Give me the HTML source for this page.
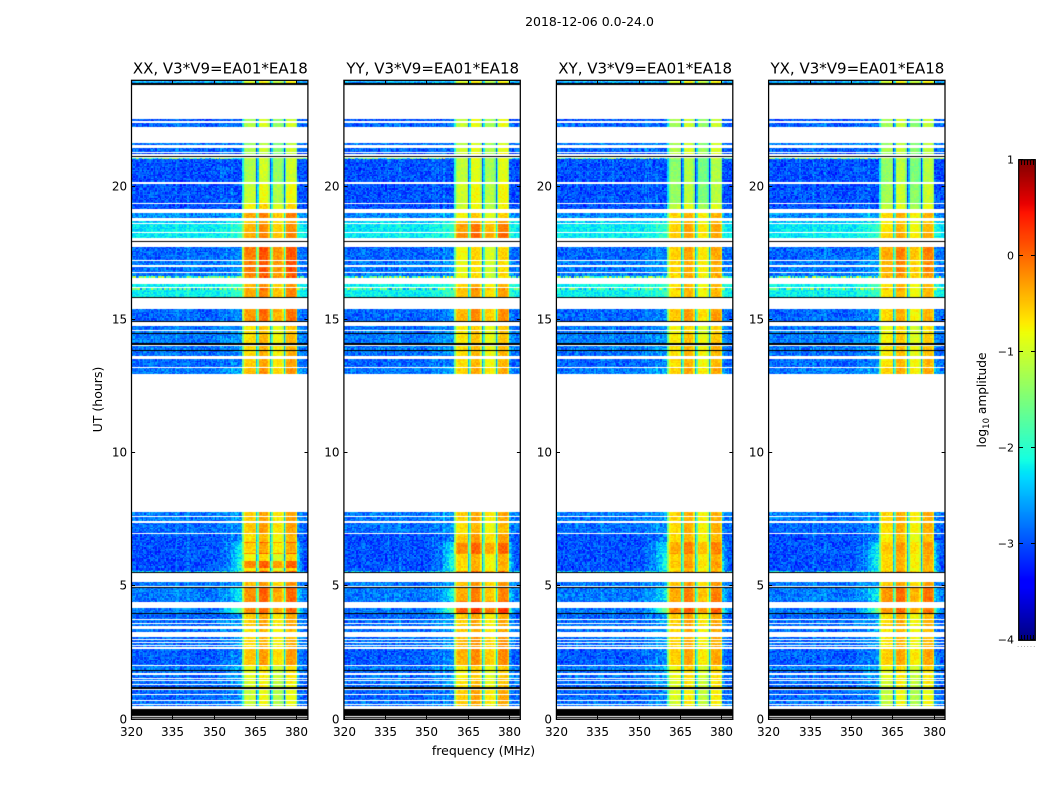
<!DOCTYPE html>
<html>
<head>
<meta charset="utf-8">
<title>2018-12-06 0.0-24.0</title>
<style>
html,body{margin:0;padding:0;background:#fff}
#figure{position:relative;width:1050px;height:800px;overflow:hidden;background:#fff}
canvas{position:absolute;display:block}
svg{position:absolute;left:0;top:0}
text{font-family:"DejaVu Sans","Liberation Sans",sans-serif;fill:#000}
</style>
</head>
<body>
<div id="figure">
<canvas id="colorbarCanvas" width="16" height="480" style="left:1019px;top:160px"></canvas>
<svg id="overlay" width="1050" height="800">
<text x="589.5" y="26" font-size="12.5" text-anchor="middle">2018-12-06 0.0-24.0</text>
<text x="483.5" y="755" font-size="12.5" text-anchor="middle">frequency (MHz)</text>
<text x="0" y="0" transform="translate(102,399.5) rotate(-90)" font-size="12.5" text-anchor="middle">UT (hours)</text>
<text x="0" y="0" transform="translate(986,400) rotate(-90)" font-size="12.2" text-anchor="middle">log<tspan font-size="8.5" dy="3">10</tspan><tspan dy="-3"> amplitude</tspan></text>
<text x="1017" y="647" font-size="7" fill="#888" letter-spacing="1" style="fill:#888">......</text>
</svg>
</div>
<script>
// Tick labels
const freqTicks = [320, 335, 350, 365, 380];
const hourTicks = [0, 5, 10, 15, 20];
const colorbarTicks = [1, 0, -1, -2, -3, -4];
const panelTitles = ["XX, V3*V9=EA01*EA18", "YY, V3*V9=EA01*EA18", "XY, V3*V9=EA01*EA18", "YX, V3*V9=EA01*EA18"];

// Observation blocks: [upper UT hour, lower UT hour]; anything not listed is flagged (white)
const blockHours = [
[23.97,23.87],[23.87,23.83],[22.55,22.49],[22.39,22.24],[21.63,21.55],[21.44,21.29],[21.25,21.22],[21.14,21.10],[21.07,21.03],[21.03,20.18],
[20.08,19.39],[19.33,19.14],[18.99,18.80],[18.71,18.64],[18.59,18.30],[18.25,18.06],[17.96,17.92],[17.74,17.24],[17.19,17.05],[16.98,16.80],
[16.74,16.62],[16.62,16.57],[16.33,16.23],[16.18,16.13],[16.13,15.86],[15.85,15.81],[15.40,14.93],[14.93,14.91],[14.76,14.61],[14.56,14.50],
[14.50,14.47],[14.47,14.11],[14.11,14.06],[14.02,13.86],[13.86,13.83],[13.83,13.64],[13.51,13.21],[13.18,12.96],[7.77,7.62],[7.57,7.42],
[7.37,6.97],[6.94,6.66],[6.66,6.60],[6.60,6.25],[6.25,6.20],[6.20,5.93],[5.93,5.66],[5.66,5.56],[5.56,5.51],[5.51,5.49],
[5.14,4.99],[4.97,4.93],[4.93,4.47],[4.42,4.38],[4.16,4.00],[4.00,3.97],[3.97,3.94],[3.94,3.74],[3.72,3.62],[3.57,3.49],
[3.37,3.28],[3.09,2.99],[2.97,2.90],[2.87,2.78],[2.74,2.69],[2.62,2.03],[2.00,1.84],[1.84,1.80],[1.80,1.74],[1.64,1.57],
[1.51,1.46],[1.42,1.34],[1.28,1.21],[1.21,1.13],[1.08,0.94],[0.89,0.71],[0.66,0.59],[0.53,0.49],[0.39,0.11],[0.06,0.04]
];
// log10 amplitude outside the passband, per block (-9 = black row)
const backgroundLevel = [
-2.6,-9,-3,-2.9,-2.8,-2.9,-3,-9,-1.9,-3,
-3,-3,-2.7,-2.4,-2.25,-2.25,-9,-2.9,-2.8,-2.8,
-2.8,-1.9,-2.2,-1.9,-2.2,-9,-2.9,-9,-2.85,-2.8,
-9,-2.8,-9,-2.8,-9,-2.85,-2.9,-2.8,-2.8,-2.8,
-2.85,-3,-3,-3,-3,-3,-3,-3,-2.4,-9,
-2.8,-9,-2.8,-2.9,-2.8,-1.9,-9,-2.9,-2.85,-2.85,
-2.85,-2.85,-2.85,-2.85,-2.85,-2.95,-2.8,-9,-2.9,-2.85,
-2.85,-2.85,-2.9,-9,-2.9,-2.9,-2.85,-2.85,-9,-9
];
// log10 amplitude inside the passband, per block, per correlation
const xxLevel = [
-.9,-9,-1.2,-1.1,-1.3,-1.2,-1.3,-9,-1.1,-1.15,
-1,-.75,-.3,-.5,-.35,-.3,-9,-.05,-.05,-.05,
-.1,-.1,-.4,-.3,-.3,-9,-.2,-9,-.65,-.65,
-9,-.6,-9,-.55,-9,-.55,-.5,-.4,-.5,-.5,
-.45,-.6,-.1,-.5,-.1,-.75,-.1,-.7,-.1,-9,
-.4,-9,-.15,-.15,-.15,-.1,-9,-.5,-.5,-.5,
-.6,-.55,-.55,-.55,-.55,-.45,-.85,-9,-.85,-.85,
-.9,-.9,-.9,-9,-1,-1,-1,-1,-9,-9
];
const yyLevel = [
-.9,-9,-1,-1,-1.1,-1,-1,-9,-1.1,-1.05,
-.95,-.95,-.7,-.5,-.25,-.15,-9,-.75,-.8,-.8,
-.8,-.8,-.55,-.4,-.45,-9,-.35,-9,-.7,-.7,
-9,-.65,-9,-.6,-9,-.6,-.6,-.5,-.5,-.5,
-.6,-.45,-.35,-.15,-.2,-.55,-.55,-.6,-.2,-9,
-.4,-9,-.3,-.1,.1,.25,-9,-.5,-.5,-.5,
-.5,-.4,-.4,-.4,-.4,-.35,-.7,-9,-.7,-.7,
-.65,-.65,-.6,-9,-.5,-.45,-.5,-.6,-9,-9
];
const xyLevel = [
-.9,-9,-1.2,-1.2,-1.2,-1.1,-1.1,-9,-1.2,-1.35,
-1.3,-1.05,-.55,-.6,-.5,-.5,-9,-.5,-.55,-.55,
-.55,-.55,-.6,-.55,-.6,-9,-.45,-9,-.75,-.75,
-9,-.65,-9,-.6,-9,-.6,-.6,-.5,-.55,-.55,
-.55,-.6,-.35,-.3,-.25,-.55,-.45,-.6,-.4,-9,
-.45,-9,-.3,-.2,-.1,0,-9,-.5,-.5,-.5,
-.55,-.55,-.55,-.55,-.55,-.5,-.75,-9,-.8,-.8,
-.85,-.85,-.85,-9,-.9,-.9,-.9,-.9,-9,-9
];
const yxLevel = [
-.9,-9,-1.2,-1.2,-1.3,-1.2,-1.3,-9,-1.2,-1.3,
-1.2,-1.05,-.55,-.7,-.6,-.5,-9,-.3,-.35,-.35,
-.4,-.4,-.6,-.55,-.6,-9,-.55,-9,-.8,-.8,
-9,-.7,-9,-.65,-9,-.65,-.6,-.5,-.55,-.55,
-.55,-.65,-.5,-.45,-.45,-.55,-.55,-.6,-.4,-9,
-.45,-9,-.2,-.2,-.2,-.1,-9,-.6,-.55,-.55,
-.6,-.6,-.6,-.6,-.6,-.5,-.8,-9,-.85,-.85,
-.9,-.9,-.9,-9,-1,-1,-1,-1,-9,-9
];
// Extra brightness of the background next to the passband, per block
const edgeGlow = [
0,0,0,0,0,0,0,0,0,0,
0,0,.2,.3,.3,.3,0,.2,.2,.2,
.2,.2,.3,.3,.3,0,.2,0,.2,.2,
0,.2,0,.2,0,.2,.2,.3,.2,.2,
.2,.3,.8,.8,.8,.9,1,.8,.5,0,
.2,0,.6,.4,1.3,1,0,.3,.3,.3,
.3,.3,.3,.3,.3,.3,.3,0,.3,.3,
.3,.3,.2,0,.2,.2,.2,.2,0,0
];
// Strength of the speckle per block; hot rows carry scattered RFI
const speckleGain = [
1,1,1,1,1,1,1,1,3,1,
1,1,1,1,.7,.7,1,1,1,1,
1,3,.7,2.5,.7,1,1,1,1,1,
1,1,1,1,1,1,1,1,1,1,
1,1,1,1,1,1,1,1,2,1,
1,1,1,1,1,3.5,1,1,1,1,
1,1,1,1,1,1,1,1,1,1,
1,1,1,1,1,1,1,1,1,1
];
// Spectral shape in dex across the 128 channels (RFI columns, passband, notches)
const channelOffset = [
0,.05,0,-.05,0,.02,0,-.03,.04,0,
0,-.04,.03,0,.05,0,-.02,0,.03,0,
-.03,0,.04,0,0,-.02,.03,0,0,.02,
0,.03,.22,.03,0,-.03,0,.03,0,.03,
.15,.03,0,-.02,0,.03,0,0,-.03,0,
.02,0,0,-.04,0,.03,0,0,.02,0,
0,-.03,.02,.03,.15,.03,.15,.03,.18,.03,
0,.02,.18,.02,0,0,0,0,0,0,
-1,-.25,-.12,-.05,-.05,-.05,-.05,-.05,-.05,-.15,
-1.9,-1.2,.15,.18,.18,.18,.18,.15,.12,-.2,
-2,-1.2,-.22,-.2,-.2,-.18,-.18,-.2,-.22,-.5,
-2,-.9,.12,.15,.15,.18,.18,.15,.1,-.2,
0,0,0,0,0,0,0,0
];
const passbandChannels = [80, 119];
const edgeChannels = [61,63,65,67,68,69,70,71,72,73,74,75,76,77,78,79,120,121,122,123,124];
const edgeWeights = [.05,.1,.12,.15,.18,.2,.25,.3,.4,.5,.6,.7,.8,.85,.95,1,.7,.5,.3,.15,.08];
// Hand-typed grain table for pixel-level texture (estimated appearance, not per-cell readings)
const speckle = [
.12,-.21,.05,.3,-.08,-.27,.18,.02,-.14,.25,-.03,-.32,.09,.21,-.17,.34,-.06,.14,-.24,.01,
.28,-.11,-.29,.07,.19,-.02,-.2,.33,-.12,.04,.23,-.26,.1,-.05,.16,-.31,.27,.0,-.15,.08,
.2,-.23,.03,.31,-.09,-.18,.13,-.01,.26,-.28,.06,-.13,.35,-.07,.11,-.22,.17,-.04,.29,-.16,
-.3,.22,.0,.15,-.25,.09,-.1,.32,-.19,.04,.24,-.06,-.33,.12,.18,-.12,.02,.28,-.2,.07,
-.03,.3,-.27,.1,.16,-.08,.21,-.15,.05,-.24,.26,-.01,.13,-.34,.19,-.11,.08
];

const plotLefts = [131.6, 344, 556.5, 768.7];
const plotSpan = 176.4;
const plotTop = 80, plotBottom = 719;
const pxPerMHz = plotSpan / 64, pxPerHour = (plotBottom - plotTop) / 24;
const panelNames = ["xx", "yy", "xy", "yx"];
const panelLevels = [xxLevel, yyLevel, xyLevel, yxLevel];

function xScale(freq) { return (freq - 320) * pxPerMHz; }
function yScale(hour) { return plotBottom - hour * pxPerHour; }
function channelFreq(c) { return 320 + c * 0.5; }
function lerp(a, b, t) { return a + (b - a) * t; }
function ramp(t, stops) {
  for (let i = 1; i < stops.length; i++) {
    if (t <= stops[i][0]) {
      const s = stops[i - 1], e = stops[i];
      return lerp(s[1], e[1], (t - s[0]) / (e[0] - s[0]));
    }
  }
  return stops[stops.length - 1][1];
}
function jet(value) {
  if (value < -6) return "#000";
  const t = Math.min(1, Math.max(0, (value + 4) / 5));
  const r = ramp(t, [[0,0],[.35,0],[.66,1],[.89,1],[1,.5]]);
  const g = ramp(t, [[0,0],[.125,0],[.375,1],[.64,1],[.91,0],[1,0]]);
  const b = ramp(t, [[0,.5],[.11,1],[.34,1],[.65,0],[1,0]]);
  return "rgb(" + Math.round(r * 255) + "," + Math.round(g * 255) + "," + Math.round(b * 255) + ")";
}
function edgeWeight(c) {
  const i = edgeChannels.indexOf(c);
  return i < 0 ? 0 : edgeWeights[i];
}
function cellValue(panel, block, row, c) {
  const inBand = c >= passbandChannels[0] && c <= passbandChannels[1];
  const grain = speckle[(row * row * 3 + c * c * 5 + row * c + panel * 11 + row * 7) % speckle.length];
  if (inBand) {
    return panelLevels[panel][block] + channelOffset[c] + grain * 0.45 * Math.min(speckleGain[block], 1.5);
  }
  return backgroundLevel[block] + channelOffset[c] + edgeGlow[block] * edgeWeight(c) + grain * speckleGain[block];
}
function drawHeatmap(ctx, panel) {
  const rowStep = 0.05;
  let rowIndex = 0;
  blockHours.forEach(function (span, block) {
    for (let h = span[0]; h > span[1] + 1e-6; h -= rowStep) {
      rowIndex++;
      const y0 = Math.round(yScale(h) - plotTop);
      const y1 = Math.round(yScale(Math.max(h - rowStep, span[1])) - plotTop);
      const rowHeight = Math.max(1, y1 - y0);
      for (let c = 0; c < channelOffset.length; c++) {
        const x0 = Math.round(xScale(channelFreq(c)));
        const x1 = Math.round(xScale(channelFreq(c + 1)));
        ctx.fillStyle = jet(cellValue(panel, block, rowIndex, c));
        ctx.fillRect(x0, y0, x1 - x0, rowHeight);
      }
    }
  });
}

const svgNS = "http://www.w3.org/2000/svg";
const overlay = document.getElementById("overlay");
const figure = document.getElementById("figure");
function svgEl(tag, parent) {
  const el = document.createElementNS(svgNS, tag);
  parent.appendChild(el);
  return el;
}
function line(parent, x1, y1, x2, y2) {
  const el = svgEl("line", parent);
  el.setAttribute("x1", x1);
  el.setAttribute("y1", y1);
  el.setAttribute("x2", x2);
  el.setAttribute("y2", y2);
  el.setAttribute("stroke", "#000");
  el.setAttribute("stroke-width", "1");
  return el;
}
function label(parent, x, y, content, size, anchor) {
  const el = svgEl("text", parent);
  el.setAttribute("x", x);
  el.setAttribute("y", y);
  el.setAttribute("font-size", size);
  el.setAttribute("text-anchor", anchor);
  el.textContent = content;
  return el;
}

panelTitles.forEach(function (title, p) {
  const left = plotLefts[p];
  const right = left + plotSpan;
  const canvas = document.createElement("canvas");
  
  
  canvas.width = Math.ceil(plotSpan);
  canvas.height = plotBottom - plotTop;
  canvas.style.left = Math.round(left) + "px";
  canvas.style.top = plotTop + "px";
  figure.insertBefore(canvas, overlay);
  drawHeatmap(canvas.getContext("2d"), p);

  const group = svgEl("g", overlay);
  
  

  const frame = svgEl("rect", group);
  
  
  frame.setAttribute("x", left - 0.1);
  frame.setAttribute("y", plotTop + 0.3);
  frame.setAttribute("width", plotSpan);
  frame.setAttribute("height", plotBottom - plotTop);
  frame.setAttribute("fill", "none");
  frame.setAttribute("stroke", "#000");
  frame.setAttribute("stroke-width", "1.25");

  const titleEl = label(group, left + plotSpan / 2 + 0.5, 73.5, title, 15, "middle");
  
  

  freqTicks.forEach(function (f) {
    const x = Math.floor(left + xScale(f)) + 0.5;
    const bottomTick = line(group, x, plotBottom, x, plotBottom - 4);
    
    
    const topTick = line(group, x, plotTop, x, plotTop + 4);
    
    
    const tickText = label(group, x, 736, String(f), 12, "middle");
    
    
  });
  hourTicks.forEach(function (h) {
    const y = Math.floor(yScale(h)) + 0.5;
    const leftTick = line(group, left - 0.5, y, left + 3.5, y);
    
    
    const rightTick = line(group, right - 3.5, y, right + 0.5, y);
    
    
    const tickText = label(group, left - 4.5, y + 4, String(h), 12, "end");
    
    
  });
});

// Colorbar
const colorbarTop = 160, colorbarBottom = 640, colorbarLeft = 1019, colorbarRight = 1035;
function colorbarY(value) {
  return colorbarBottom - (value + 4) / 5 * (colorbarBottom - colorbarTop);
}
const cbCtx = document.getElementById("colorbarCanvas").getContext("2d");
for (let y = 0; y < 480; y++) {
  cbCtx.fillStyle = jet(1 - (y + 0.5) / 480 * 5);
  cbCtx.fillRect(0, y, 16, 1);
}
const cbGroup = svgEl("g", overlay);


const cbFrame = svgEl("rect", cbGroup);


cbFrame.setAttribute("x", colorbarLeft - 0.3);
cbFrame.setAttribute("y", colorbarTop - 0.3);
cbFrame.setAttribute("width", colorbarRight - colorbarLeft + 0.6);
cbFrame.setAttribute("height", colorbarBottom - colorbarTop + 0.6);
cbFrame.setAttribute("fill", "none");
cbFrame.setAttribute("stroke", "#000");
cbFrame.setAttribute("stroke-width", "1.25");
colorbarTicks.forEach(function (v) {
  const y = Math.round(colorbarY(v)) - 0.5;
  const leftTick = line(cbGroup, colorbarLeft, y, colorbarLeft + 4, y);
  
  
  const rightTick = line(cbGroup, colorbarRight - 4, y, colorbarRight, y);
  
  
  const text = label(cbGroup, colorbarLeft - 5, y + 4, String(v).replace("-", "\u2212"), 11, "end");
  
  
});
[2.5, 5.5, 8.5, 11.5, 14.5].forEach(function (dx) {
  const upper = line(cbGroup, colorbarLeft + dx, colorbarTop, colorbarLeft + dx, colorbarTop + 5);
  
  
  const lower = line(cbGroup, colorbarLeft + dx, colorbarBottom - 5, colorbarLeft + dx, colorbarBottom);
  
  
});
</script>
</body>
</html>
